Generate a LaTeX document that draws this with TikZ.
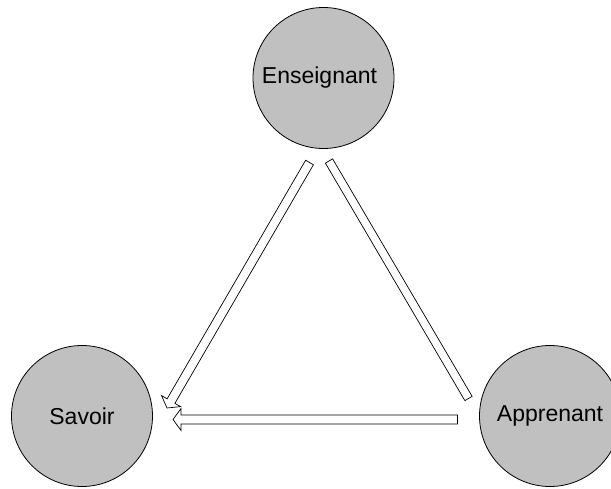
\documentclass[tikz,border=0pt]{standalone}
\usepackage{fontspec}
\setmainfont{Liberation Sans}
\usetikzlibrary{calc}
\definecolor{circgray}{HTML}{C0C0C0}
\newcommand\hollowarrow[5]{%
  % #1 start, #2 tip, #3 shaft half width, #4 head length, #5 head half width (all with units)
  \path ($(#2)!#4!(#1)$) coordinate (hbase);
  \draw[blk] ($(#1)!#3!90:(#2)$) -- ($(hbase)!#3!-90:(#1)$) -- ($(hbase)!#5!-90:(#1)$)
    -- (#2) -- ($(hbase)!#5!90:(#1)$) -- ($(hbase)!#3!90:(#1)$) -- ($(#1)!#3!-90:(#2)$) -- cycle;
}
\begin{document}
\begin{tikzpicture}[x=1pt,y=-1pt,
  circ/.style={circle, draw=black, line width=0.8pt, fill=circgray, minimum size=141pt,
    inner sep=0pt, font=\fontsize{23}{27}\selectfont},
  blk/.style={draw=black, line width=0.7pt, fill=white, line join=miter}]
\useasboundingbox (0,0) rectangle (611,489);
\clip (0,0) rectangle (611,489);
\node[circ] (ens) at (323.5,78) {Enseignant\hspace*{8pt}};
\node[circ] (sav) at (82,416) {Savoir};
\node[circ] (app) at (550,416) {Apprenant};
% connector end points
\coordinate (a1s) at (309.5,162.5);
\coordinate (a1e) at (167,408);
\coordinate (a2s) at (329,161);
\coordinate (a2e) at (468.5,398.5);
\coordinate (a3s) at (457.5,419.5);
\coordinate (a3e) at (173,419.5);
% Enseignant -> Savoir
\hollowarrow{a1s}{a1e}{4.5pt}{8pt}{11pt}
% Enseignant -- Apprenant
\draw[blk] ($(a2s)!4.2pt!90:(a2e)$) -- ($(a2e)!4.2pt!-90:(a2s)$) -- ($(a2e)!4.2pt!90:(a2s)$) -- ($(a2s)!4.2pt!-90:(a2e)$) -- cycle;
% Apprenant -> Savoir
\hollowarrow{a3s}{a3e}{4.5pt}{8pt}{11pt}
\end{tikzpicture}
\end{document}
